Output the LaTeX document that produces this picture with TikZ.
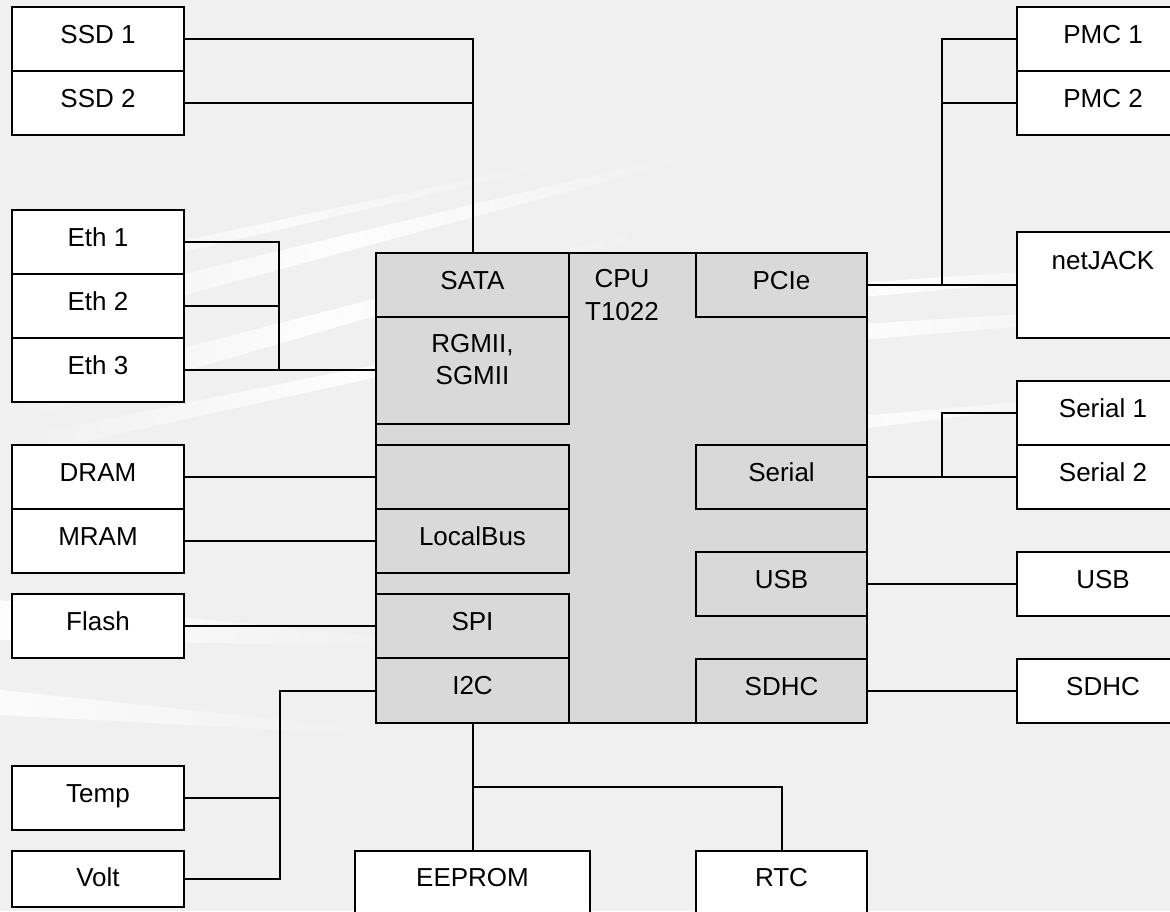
\documentclass[tikz,border=0pt]{standalone}
\usepackage{fontspec}
\setmainfont{Liberation Sans}
\usetikzlibrary{fadings}
\definecolor{bgc}{RGB}{240,240,240}
\definecolor{subc}{RGB}{217,217,217}
\tikzfading[name=fadeMid, left color=transparent!100, right color=transparent!100, middle color=transparent!0]
\tikzfading[name=fadeR, left color=transparent!0, right color=transparent!100]
\begin{document}
\begin{tikzpicture}[x=0.75pt,y=-0.75pt,
  every node/.style={font=\fontsize{19.5}{24}\selectfont, inner sep=0pt},
  box/.style={draw=black, line width=1.5pt, fill=white},
  sub/.style={draw=black, line width=1.5pt, fill=subc},
  w172/.style={minimum width=129pt},
  w171/.style={minimum width=128.25pt},
  w193/.style={minimum width=144.75pt},
  h64/.style={minimum height=48pt, text height=27pt, text depth=21pt},
  h65/.style={minimum height=48.75pt, text height=27pt, text depth=21.75pt},
  wire/.style={draw=black, line width=1.5pt},
  streak/.style={fill=white, path fading=fadeMid}
]
\useasboundingbox (0,0) rectangle (1170,911);
\clip (0,0) rectangle (1170,911);
\fill[bgc] (0,0) rectangle (1170,911);
% background streaks
\fill[streak, opacity=.9] (0,318) -- (700,150) -- (700,156) -- (0,345) -- cycle;
\fill[streak, opacity=.9] (0,395) -- (650,228) -- (650,236) -- (0,425) -- cycle;
\fill[streak, opacity=.7] (0,280) -- (560,160) -- (560,164) -- (0,295) -- cycle;
\fill[streak, opacity=.9] (0,440) -- (700,300) -- (700,306) -- (0,460) -- cycle;
\fill[fill=white, path fading=fadeR, opacity=.9] (0,600) -- (420,640) -- (420,646) -- (0,640) -- cycle;
\fill[fill=white, path fading=fadeR, opacity=.8] (0,690) -- (380,730) -- (380,735) -- (0,715) -- cycle;
\fill[streak, opacity=.9] (600,300) -- (1170,262) -- (1170,270) -- (600,320) -- cycle;
\fill[streak, opacity=.8] (600,340) -- (1170,305) -- (1170,314) -- (600,362) -- cycle;
\fill[streak, opacity=.8] (700,430) -- (1100,395) -- (1100,400) -- (700,448) -- cycle;

% left devices
\node[box,w172,h64] (ssd1) at (98,39) {SSD 1};
\node[box,w172,h64] (ssd2) at (98,103) {SSD 2};
\node[box,w172,h64] (eth1) at (98,242) {Eth 1};
\node[box,w172,h64] (eth2) at (98,306) {Eth 2};
\node[box,w172,h64] (eth3) at (98,370) {Eth 3};
\node[box,w172,h64] (dram) at (98,477) {DRAM};
\node[box,w172,h64] (mram) at (98,541) {MRAM};
\node[box,w172,h64] (flash) at (98,626) {Flash};
\node[box,w172,h64] (temp) at (98,798) {Temp};
\node[box,w172,minimum height=42pt,text height=26.25pt,text depth=15.75pt] (volt) at (98,879) {Volt};

% CPU
\node[sub, minimum width=368.25pt, minimum height=352.5pt] (cpu) at (621.5,488) {};
\node[align=center, font=\fontsize{19.5}{25}\selectfont] (cputxt) at (622,295) {CPU\\T1022};
\node[sub,w193,h64] (sata) at (472.5,285) {SATA};
\node[sub,w193,minimum height=80.25pt] (rgmii) at (472.5,370) {};
\node[align=center] (rgmiitxt) at (472.5,360) {RGMII,\\SGMII};
\node[sub,w193,h64] (blank) at (472.5,477) {};
\node[sub,w193,h64] (lbus) at (472.5,541) {LocalBus};
\node[sub,w193,h64] (spi) at (472.5,626) {SPI};
\node[sub,w193,h65] (i2c) at (472.5,690.5) {I2C};
\node[sub,w171,h64] (pcie) at (781.5,285) {PCIe};
\node[sub,w171,h64] (serial) at (781.5,477) {Serial};
\node[sub,w171,h64] (usb) at (781.5,584) {USB};
\node[sub,w171,h64] (sdhc) at (781.5,691) {SDHC};

% right devices
\node[box,w172,h64] (pmc1) at (1103,39) {PMC 1};
\node[box,w172,h64] (pmc2) at (1103,103) {PMC 2};
\node[box,w172,minimum height=79.5pt,text height=27.75pt,text depth=51.75pt] (netjack) at (1103,285) {netJACK};
\node[box,w172,h64] (ser1) at (1103,413) {Serial 1};
\node[box,w172,h64] (ser2) at (1103,477) {Serial 2};
\node[box,w172,h64] (usbx) at (1103,584) {USB};
\node[box,w172,h64] (sdhcx) at (1103,691) {SDHC};

% bottom devices
\node[box,minimum width=176.25pt,minimum height=75pt,text height=26.25pt,text depth=48.75pt] (eeprom) at (472.5,901) {EEPROM};
\node[box,w171,minimum height=75pt,text height=26.25pt,text depth=48.75pt] (rtc) at (781.5,901) {RTC};

% junctions
\coordinate (ethbus) at (279,370);
\coordinate (i2cbus) at (280,690.5);
\coordinate (botj) at (472.5,787);
\coordinate (pcibus) at (942,285);
\coordinate (serbus) at (942,477);

% connectors
\draw[wire] (ssd1.east) -| (sata.north);
\draw[wire] (ssd2.east) -- (ssd2.east -| sata.north);
\draw[wire] (eth1.east) -| (ethbus);
\draw[wire] (eth2.east) -- (eth2.east -| ethbus);
\draw[wire] (eth3.east) -- (rgmii.west);
\draw[wire] (dram.east) -- (blank.west);
\draw[wire] (mram.east) -- (lbus.west);
\draw[wire] (flash.east) -- (spi.west);
\draw[wire] (i2c.west) -- (i2cbus) |- (volt.east);
\draw[wire] (temp.east) -- (temp.east -| i2cbus);
\draw[wire] (i2c.south) -- (eeprom.north);
\draw[wire] (botj) -| (rtc.north);
\draw[wire] (pcie.east) -- (netjack.west);
\draw[wire] (pcibus) |- (pmc1.west);
\draw[wire] (pmc2.west -| pcibus) -- (pmc2.west);
\draw[wire] (serial.east) -- (ser2.west);
\draw[wire] (serbus) |- (ser1.west);
\draw[wire] (usb.east) -- (usbx.west);
\draw[wire] (sdhc.east) -- (sdhcx.west);
\end{tikzpicture}
\end{document}
